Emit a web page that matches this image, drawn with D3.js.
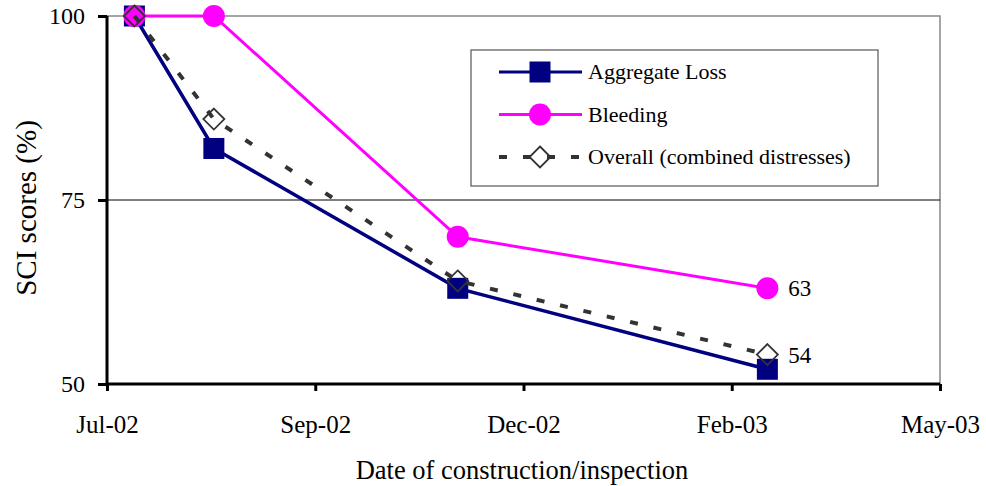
<!DOCTYPE html>
<html>
<head>
<meta charset="utf-8">
<script src="https://cdn.jsdelivr.net/npm/d3@7"></script>
<style>
  body { margin: 0; background: #fff; }
  svg, svg text { font-family: "Liberation Serif", "DejaVu Serif", "Times New Roman", serif; }
  svg text { fill: #000; }
</style>
</head>
<body>
<div id="chart"></div>
<script>
// data
var dates = ["2002-07-13", "2002-08-11", "2002-11-08", "2003-03-01"];
var aggregateLoss = [100, 82, 63, 52];
var bleeding = [100, 100, 70, 63];
var overall = [100, 86, 64, 54];
var tickDates = ["2002-07-03", "2002-09-17", "2002-12-02", "2003-02-16", "2003-05-03"];
var yTicks = [50, 75, 100];
var endLabels = [{ series: "bleeding", text: "63" }, { series: "overall", text: "54" }];

var parse = d3.timeParse("%Y-%m-%d");
var fmt = d3.timeFormat("%b-%y");

var width = 986, height = 486;
var margin = { top: 16, right: 46, bottom: 102, left: 107 };
var w = width - margin.left - margin.right,
    h = height - margin.top - margin.bottom;

var svg = d3.select("#chart").append("svg")
  .attr("width", width)
  .attr("height", height);

var g = svg.append("g")
  .attr("transform", "translate(" + margin.left + "," + margin.top + ")");

var x = d3.scaleTime()
  .domain([parse(tickDates[0]), parse(tickDates[tickDates.length - 1])])
  .range([0, w]);

var y = d3.scaleLinear()
  .domain([50, 100])
  .range([h, 0]);

// plot frame (grey top and right)
g.append("path")
  .attr("d", "M0,0H" + w + "V" + h)
  .attr("fill", "none")
  .attr("stroke", "#888")
  .attr("stroke-width", 1.5);

// gridline at 75
g.append("line")
  .attr("x1", 0).attr("x2", w)
  .attr("y1", y(75)).attr("y2", y(75))
  .attr("stroke", "#000")
  .attr("stroke-width", 1);

// axes
var xAxis = d3.axisBottom(x)
  .tickValues(tickDates.map(parse))
  .tickFormat(fmt)
  .tickSize(7);

var yAxis = d3.axisLeft(y)
  .tickValues(yTicks)
  .tickSize(9)
  .tickPadding(13);

var gx = g.append("g")
  .attr("transform", "translate(0," + h + ")")
  .call(xAxis);
gx.attr("font-family", null);
gx.select(".domain").attr("stroke", "#000").attr("stroke-width", 3).attr("d", "M0,0H" + w);
gx.selectAll(".tick line").attr("stroke", "#000").attr("stroke-width", 3);
gx.selectAll(".tick text")
  .attr("font-size", 25)
  .attr("y", 49)
  .attr("dy", 0);

var gy = g.append("g").call(yAxis);
gy.attr("font-family", null);
gy.select(".domain").attr("stroke", "#000").attr("stroke-width", 3).attr("d", "M0,0V" + h);
gy.selectAll(".tick line").attr("stroke", "#000").attr("stroke-width", 3);
gy.selectAll(".tick text").attr("font-size", 24);

// axis titles
svg.append("text")
  .attr("x", 522)
  .attr("y", 479)
  .attr("text-anchor", "middle")
  .attr("font-size", 26.5)
  .text("Date of construction/inspection");

svg.append("text")
  .attr("transform", "translate(36,208) rotate(-90)")
  .attr("text-anchor", "middle")
  .attr("font-size", 29)
  .text("SCI scores (%)");

// series
var series = [
  { key: "aggregate", name: "Aggregate Loss", values: aggregateLoss, color: "#000080", dash: null, marker: "square" },
  { key: "bleeding", name: "Bleeding", values: bleeding, color: "#ff00ff", dash: null, marker: "circle" },
  { key: "overall", name: "Overall (combined distresses)", values: overall, color: "#333333", dash: "8,16", marker: "diamond" }
];

var line = d3.line()
  .x(function (d) { return x(d.date); })
  .y(function (d) { return y(d.value); });

function drawMarker(sel, s, cx, cy) {
  if (s.marker === "square") {
    sel.append("rect")
      .attr("x", cx - 10.5).attr("y", cy - 10.5)
      .attr("width", 21).attr("height", 21)
      .attr("fill", s.color);
  } else if (s.marker === "circle") {
    sel.append("circle")
      .attr("cx", cx).attr("cy", cy).attr("r", 11)
      .attr("fill", s.color);
  } else {
    sel.append("path")
      .attr("d", "M" + cx + "," + (cy - 10.5) + "L" + (cx + 10.5) + "," + cy + "L" + cx + "," + (cy + 10.5) + "L" + (cx - 10.5) + "," + cy + "Z")
      .attr("fill", "none")
      .attr("stroke", s.color)
      .attr("stroke-width", 1.8);
  }
}

series.forEach(function (s) {
  var pts = dates.map(function (d, i) { return { date: parse(d), value: s.values[i] }; });
  var sg = g.append("g").attr("class", "series-" + s.key);
  sg.append("path")
    .attr("d", line(pts))
    .attr("fill", "none")
    .attr("stroke", s.color)
    .attr("stroke-width", s.key === "aggregate" ? 3.5 : (s.dash ? 4 : 3))
    .attr("stroke-dasharray", s.dash);
  pts.forEach(function (p) {
    drawMarker(sg, s, x(p.date), y(p.value));
  });
});

// end labels
endLabels.forEach(function (l) {
  var s = series.filter(function (d) { return d.key === l.series; })[0];
  var last = s.values.length - 1;
  g.append("text")
    .attr("x", x(parse(dates[last])) + 21)
    .attr("y", y(s.values[last]))
    .attr("dy", "0.35em")
    .attr("font-size", 23)
    .text(l.text);
});

// legend
var legend = svg.append("g").attr("transform", "translate(471,50)");
legend.append("rect")
  .attr("width", 407).attr("height", 136)
  .attr("fill", "#fff")
  .attr("stroke", "#555")
  .attr("stroke-width", 1.2);

series.forEach(function (s, i) {
  var ly = 22 + i * 42.5;
  var lg = legend.append("g");
  lg.append("line")
    .attr("x1", 28).attr("x2", 111)
    .attr("y1", ly).attr("y2", ly)
    .attr("stroke", s.color)
    .attr("stroke-width", s.dash ? 4 : 3)
    .attr("stroke-dasharray", s.dash);
  drawMarker(lg, s, 69, ly);
  lg.append("text")
    .attr("x", 117)
    .attr("y", ly)
    .attr("dy", "0.33em")
    .attr("font-size", 22)
    .text(s.name);
});
</script>
</body>
</html>
